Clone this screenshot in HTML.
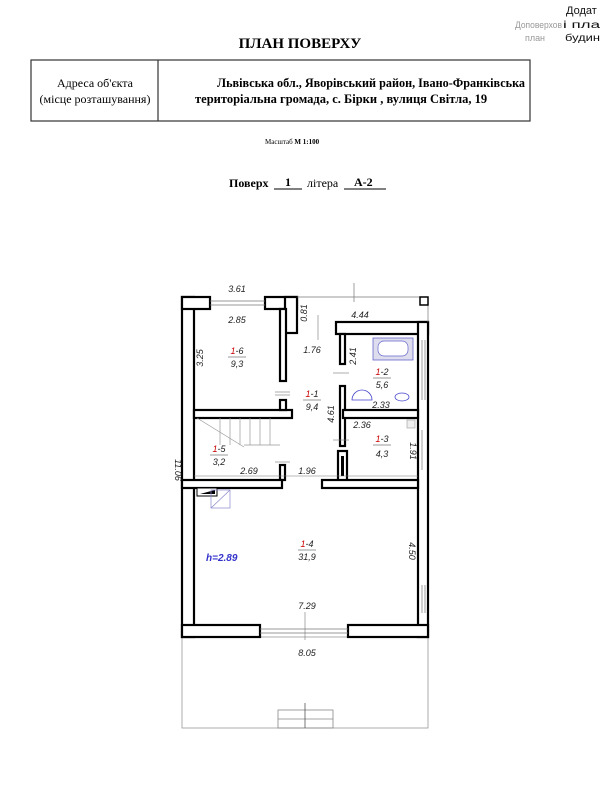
<!DOCTYPE html>
<html><head><meta charset="utf-8"><style>
body{margin:0;background:#fff;}
svg{display:block}
text{font-family:"Liberation Sans",sans-serif;}
.s{font-family:"Liberation Serif",serif;}
.d{font-size:9px;font-style:italic;fill:#222}
</style></head><body>
<svg width="600" height="800" viewBox="0 0 600 800">
<!-- header -->
<text x="566" y="14" font-family="Liberation Mono" font-size="11" fill="#111">Додат</text>
<text x="515" y="28" font-family="Liberation Mono" font-size="9" fill="#999" textLength="47" lengthAdjust="spacingAndGlyphs">Доповерхов</text><text x="563" y="28" font-family="Liberation Mono" font-size="10" fill="#111" textLength="37" lengthAdjust="spacingAndGlyphs">і пла</text>
<text x="525" y="41" font-family="Liberation Mono" font-size="9" fill="#999" textLength="20" lengthAdjust="spacingAndGlyphs">план</text><text x="565" y="41" font-family="Liberation Mono" font-size="10" fill="#111" textLength="35" lengthAdjust="spacingAndGlyphs">будин</text>
<text class="s" x="300" y="48" text-anchor="middle" font-size="15" font-weight="bold">ПЛАН ПОВЕРХУ</text>
<rect x="31" y="60" width="499" height="61" fill="none" stroke="#333" stroke-width="1.2"/>
<line x1="158" y1="60" x2="158" y2="121" stroke="#333" stroke-width="1.2"/>
<text class="s" x="95" y="87" text-anchor="middle" font-size="12">Адреса об'єкта</text>
<text class="s" x="95" y="103" text-anchor="middle" font-size="12">(місце розташування)</text>
<text class="s" x="217" y="87" font-size="12.5" font-weight="bold" textLength="308" lengthAdjust="spacingAndGlyphs">Львівська обл., Яворівський район, Івано-Франківська</text>
<text class="s" x="195" y="103" font-size="12.5" font-weight="bold">територіальна громада, с. Бірки , вулиця Світла, 19</text>
<text class="s" x="265" y="144" font-size="7">Масштаб <tspan font-weight="bold">М 1:100</tspan></text>
<text class="s" x="229" y="187" font-size="12" font-weight="bold">Поверх</text>
<text class="s" x="285" y="186" font-size="12" font-weight="bold">1</text>
<line x1="274" y1="189" x2="302" y2="189" stroke="#000"/>
<text class="s" x="307" y="187" font-size="12">літера</text>
<text class="s" x="354" y="186" font-size="12" font-weight="bold">А-2</text>
<line x1="344" y1="189" x2="386" y2="189" stroke="#000"/>

<!-- terrace -->
<rect x="182" y="637" width="246" height="91" fill="none" stroke="#999" stroke-width="0.8"/>
<rect x="278" y="710" width="55" height="18" fill="none" stroke="#888" stroke-width="0.8"/>
<line x1="278" y1="719" x2="333" y2="719" stroke="#888" stroke-width="0.8"/>
<line x1="305" y1="703" x2="305" y2="728" stroke="#555" stroke-width="0.8"/>

<g fill="#fff" stroke="#000" stroke-width="2.2">
<rect x="182" y="297" width="12" height="340"/>
<rect x="182" y="297" width="28" height="12"/>
<rect x="265" y="297" width="32" height="12"/>
<rect x="285" y="297" width="12" height="36"/>
<rect x="280" y="309" width="6" height="72"/>
<rect x="336" y="322" width="92" height="12"/>
<rect x="418" y="322" width="10" height="315"/>
<rect x="340" y="334" width="5" height="30"/>
<rect x="340" y="386" width="5" height="60"/>
<rect x="343" y="410" width="75" height="8"/>
<rect x="194" y="410" width="98" height="8"/>
<rect x="280" y="400" width="6" height="10"/>
<rect x="280" y="465" width="5" height="15"/>
<rect x="338" y="451" width="9" height="30"/>
<rect x="182" y="480" width="100" height="8"/>
<rect x="322" y="480" width="96" height="8"/>
<rect x="182" y="625" width="78" height="12"/>
<rect x="348" y="625" width="80" height="12"/>
</g>
<g stroke="#777" stroke-width="0.7">
<line x1="210" y1="301" x2="265" y2="301"/><line x1="210" y1="305" x2="265" y2="305"/>
<line x1="260" y1="629" x2="348" y2="629"/><line x1="260" y1="633" x2="348" y2="633"/>
<line x1="422" y1="585" x2="422" y2="613"/><line x1="425" y1="585" x2="425" y2="613"/>
<line x1="422" y1="340" x2="422" y2="400"/><line x1="425" y1="340" x2="425" y2="400"/>
<line x1="422" y1="430" x2="422" y2="470"/>
<line x1="428" y1="297" x2="428" y2="322"/>
<line x1="297" y1="297" x2="428" y2="297"/>
<line x1="354" y1="283" x2="354" y2="302"/>
</g>
<rect x="420" y="297" width="8" height="8" fill="#fff" stroke="#000" stroke-width="1.5"/>
<g stroke="#999" stroke-width="0.7" fill="none">
<line x1="197" y1="418" x2="244" y2="447"/>
<line x1="220" y1="418" x2="220" y2="445"/><line x1="230" y1="418" x2="230" y2="445"/><line x1="240" y1="418" x2="240" y2="445"/><line x1="250" y1="418" x2="250" y2="445"/><line x1="260" y1="418" x2="260" y2="445"/><line x1="270" y1="418" x2="270" y2="445"/>
<line x1="244" y1="445" x2="280" y2="445"/>
</g>
<rect x="373" y="338" width="40" height="22" fill="#dde" stroke="#66c" stroke-width="0.8"/>
<rect x="378" y="341" width="30" height="15" rx="6" fill="#fff" stroke="#66c" stroke-width="0.7"/>
<path d="M352 400 a10 10 0 0 1 20 0 z" fill="none" stroke="#44c" stroke-width="0.8"/>
<ellipse cx="402" cy="397" rx="7" ry="4" fill="none" stroke="#44c" stroke-width="0.8"/>
<rect x="407" y="420" width="8" height="8" fill="#eee" stroke="#999" stroke-width="0.6"/>
<rect x="197" y="488" width="20" height="8" fill="#fff" stroke="#000"/><path d="M200 494 L215 490 L215 494Z"/>
<rect x="211" y="490" width="19" height="18" fill="none" stroke="#88c" stroke-width="0.7"/>
<line x1="211" y1="508" x2="230" y2="490" stroke="#88c" stroke-width="0.7"/>
<rect x="341" y="456" width="3" height="20"/>
<g stroke="#777" stroke-width="0.6">
<line x1="275" y1="392" x2="290" y2="392"/><line x1="275" y1="395" x2="290" y2="395"/>
<line x1="318" y1="315" x2="318" y2="340"/>
<line x1="333" y1="373" x2="349" y2="373"/><line x1="333" y1="440" x2="349" y2="440"/>
<line x1="275" y1="462" x2="290" y2="462"/>
<line x1="305" y1="612" x2="305" y2="640"/>
<line x1="194" y1="476" x2="418" y2="476"/>
</g>
<text class="d" x="237" y="292" text-anchor="middle">3.61</text>
<text class="d" x="237" y="323" text-anchor="middle">2.85</text>
<text class="d" x="360" y="318" text-anchor="middle">4.44</text>
<text class="d" x="312" y="353" text-anchor="middle">1.76</text>
<text class="d" x="300" y="320" transform="rotate(-90 300 313)" text-anchor="middle">0.81</text>
<text class="d" x="203" y="358" transform="rotate(-90 203 358)" text-anchor="middle">3.25</text>
<text class="d" x="356" y="356" transform="rotate(-90 356 356)" text-anchor="middle">2.41</text>
<text class="d" x="334" y="414" transform="rotate(-90 334 414)" text-anchor="middle">4.61</text>
<text class="d" x="410" y="451" transform="rotate(90 410 451)" text-anchor="middle">1.91</text>
<text class="d" x="409" y="551" transform="rotate(90 409 551)" text-anchor="middle">4.50</text>
<text class="d" x="175" y="470" transform="rotate(90 175 470)" text-anchor="middle">11.06</text>
<text class="d" x="381" y="408" text-anchor="middle">2.33</text>
<text class="d" x="362" y="428" text-anchor="middle">2.36</text>
<text class="d" x="249" y="474" text-anchor="middle">2.69</text>
<text class="d" x="307" y="474" text-anchor="middle">1.96</text>
<text class="d" x="307" y="609" text-anchor="middle">7.29</text>
<text class="d" x="307" y="656" text-anchor="middle">8.05</text>
<g class="d" font-size="9.5" text-anchor="middle">
<text x="237" y="354"><tspan fill="#c00">1</tspan>-6</text><line x1="228" y1="357" x2="246" y2="357" stroke="#333" stroke-width="0.6"/><text x="237" y="367">9,3</text>
<text x="312" y="397"><tspan fill="#c00">1</tspan>-1</text><line x1="303" y1="400" x2="321" y2="400" stroke="#333" stroke-width="0.6"/><text x="312" y="410">9,4</text>
<text x="382" y="375"><tspan fill="#c00">1</tspan>-2</text><line x1="373" y1="378" x2="391" y2="378" stroke="#333" stroke-width="0.6"/><text x="382" y="388">5,6</text>
<text x="382" y="442"><tspan fill="#c00">1</tspan>-3</text><line x1="373" y1="445" x2="391" y2="445" stroke="#333" stroke-width="0.6"/><text x="382" y="457">4,3</text>
<text x="219" y="452"><tspan fill="#c00">1</tspan>-5</text><line x1="210" y1="455" x2="228" y2="455" stroke="#333" stroke-width="0.6"/><text x="219" y="465">3,2</text>
<text x="307" y="547"><tspan fill="#c00">1</tspan>-4</text><line x1="298" y1="550" x2="316" y2="550" stroke="#333" stroke-width="0.6"/><text x="307" y="560">31,9</text>
</g>
<text x="206" y="561" font-family="Liberation Serif" font-size="10" font-weight="bold" font-style="italic" fill="#33c">h=2.89</text>
</svg>
</body></html>
